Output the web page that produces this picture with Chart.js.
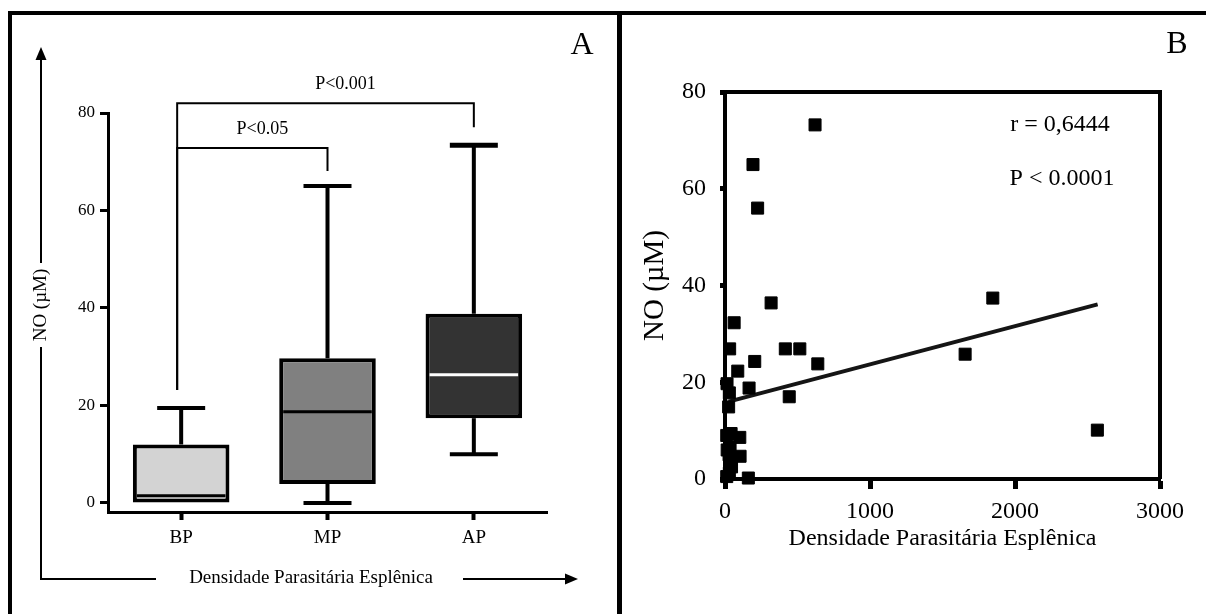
<!DOCTYPE html>
<html>
<head>
<meta charset="utf-8">
<script src="https://cdn.jsdelivr.net/npm/chart.js@4.4.0/dist/chart.umd.min.js"></script>
<style>
    html, body { margin: 0; padding: 0; background: #fff; }
    #page { position: relative; width: 1206px; height: 614px; overflow: hidden; }
    #chartA { position: absolute; left: 0; top: 0; }
    #chartB { position: absolute; left: 622px; top: 0; }
    .frame { position: absolute; background: #000; }
</style>
</head>
<body>
<div id="page">
    <canvas id="chartA" width="616" height="614"></canvas>
    <canvas id="chartB" width="584" height="614"></canvas>
    <div class="frame" style="left:8px;top:11px;width:1198px;height:4px"></div>
    <div class="frame" style="left:8px;top:11px;width:4px;height:603px"></div>
    <div class="frame" style="left:617px;top:11px;width:5px;height:603px"></div>
</div>
<script>
const serif = '"Liberation Serif", "Times New Roman", serif';

// panel A - box plot
const groups = ['BP', 'MP', 'AP'];
const whiskerLow = [0, 0, 10];
const boxLow = [0, 3.9, 17.4];
const medians = [1.5, 18.7, 26.3];
const boxHigh = [12, 29.7, 38.8];
const whiskerHigh = [19.5, 65, 73.4];
const boxTicks = [0, 20, 40, 60, 80];
const comparisonPairs = [[0, 2], [0, 1]];
const comparisonLabels = ['P<0.001', 'P<0.05'];

// panel B - scatter
const densidade = [621, 193, 225, 318, 1847, 63, 32, 416, 516, 205, 640, 1656, 88, 166, 443,
    14, 30, 25, 2568, 102, 42, 12, 35, 104, 28, 40, 161, 12, 30, 15, 45];
const noValues = [73.2, 65.0, 56.0, 36.4, 37.4, 32.3, 26.9, 26.9, 26.9, 24.3, 23.8, 25.8, 22.3, 18.8, 17.0,
    19.7, 17.8, 14.9, 10.1, 8.6, 9.4, 9.0, 6.6, 4.7, 5.0, 3.9, 0.2, 0.5, 1.2, 6.0, 2.5];
const trendX = [25, 2570];
const trendY = [16.0, 36.1];
const scatterTicksX = [0, 1000, 2000, 3000];
const scatterTicksY = [0, 20, 40, 60, 80];

function line(ctx, x1, y1, x2, y2, width, color) {
    ctx.beginPath();
    ctx.lineWidth = width;
    ctx.strokeStyle = color || '#000';
    ctx.moveTo(x1, y1);
    ctx.lineTo(x2, y2);
    ctx.stroke();
}

const boxExtras = {
    id: 'boxExtras',
    afterDatasetsDraw(chart) {
        const ctx = chart.ctx;
        const xs = chart.scales.x;
        const ys = chart.scales.y;
        const medianColors = ['#000', '#000', '#fff'];
        ctx.save();
        ctx.lineCap = 'butt';
        groups.forEach((g, i) => {
            const x = xs.getPixelForValue(i);
            const bar = chart.getDatasetMeta(0).data[i];
            const half = bar.width / 2;
            // whiskers
            line(ctx, x, ys.getPixelForValue(boxHigh[i]), x, ys.getPixelForValue(whiskerHigh[i]), 4);
            line(ctx, x - 24, ys.getPixelForValue(whiskerHigh[i]), x + 24, ys.getPixelForValue(whiskerHigh[i]), i === 2 ? 5 : 4);
            if (whiskerLow[i] < boxLow[i]) {
                line(ctx, x, ys.getPixelForValue(boxLow[i]), x, ys.getPixelForValue(whiskerLow[i]), 4);
                line(ctx, x - 24, ys.getPixelForValue(whiskerLow[i]), x + 24, ys.getPixelForValue(whiskerLow[i]), 4);
            }
            // median
            line(ctx, x - half + 4, ys.getPixelForValue(medians[i]), x + half - 4, ys.getPixelForValue(medians[i]), 3, medianColors[i]);
        });
        ctx.restore();
    },
    afterDraw(chart) {
        const ctx = chart.ctx;
        const xs = chart.scales.x;
        const ys = chart.scales.y;
        ctx.save();

        // significance brackets
        const levels = [82, 72.8];
        const drops = [[23.2, 77.1], [23.2, 68.1]];
        const textShift = [20, 10];
        ctx.fillStyle = '#000';
        ctx.font = '18px ' + serif;
        ctx.textAlign = 'center';
        ctx.textBaseline = 'middle';
        comparisonPairs.forEach((pair, k) => {
            const x1 = xs.getPixelForValue(pair[0]) - 4;
            const x2 = xs.getPixelForValue(pair[1]);
            const yTop = ys.getPixelForValue(levels[k]);
            ctx.beginPath();
            ctx.lineWidth = 2;
            ctx.strokeStyle = '#000';
            ctx.moveTo(x1, ys.getPixelForValue(drops[k][0]));
            ctx.lineTo(x1, yTop);
            ctx.lineTo(x2, yTop);
            ctx.lineTo(x2, ys.getPixelForValue(drops[k][1]));
            ctx.stroke();
            ctx.fillText(comparisonLabels[k], (x1 + x2) / 2 + textShift[k], yTop - 19);
        });

        // outer arrows with axis titles
        line(ctx, 41, 58, 41, 263, 2);
        line(ctx, 41, 347, 41, 579, 2);
        line(ctx, 40, 579, 156, 579, 2);
        line(ctx, 463, 579, 566, 579, 2);
        ctx.beginPath();
        ctx.moveTo(41, 47); ctx.lineTo(35.5, 60); ctx.lineTo(46.5, 60); ctx.closePath();
        ctx.fill();
        ctx.beginPath();
        ctx.moveTo(578, 579); ctx.lineTo(565, 573.5); ctx.lineTo(565, 584.5); ctx.closePath();
        ctx.fill();

        ctx.font = '19px ' + serif;
        ctx.fillText('Densidade Parasitária Esplênica', 311, 578);
        ctx.save();
        ctx.translate(41, 305);
        ctx.rotate(-Math.PI / 2);
        ctx.fillText('NO (µM)', 0, 0);
        ctx.restore();

        ctx.font = '32px ' + serif;
        ctx.fillText('A', 582, 46);
        ctx.restore();
    }
};

new Chart(document.getElementById('chartA'), {
    type: 'bar',
    data: {
        labels: groups,
        datasets: [{
            data: groups.map((g, i) => [boxLow[i], boxHigh[i]]),
            backgroundColor: ['#d3d3d3', '#808080', '#333333'],
            borderColor: '#000',
            borderWidth: 4,
            borderSkipped: false,
            categoryPercentage: 1,
            barPercentage: 0.66
        }]
    },
    options: {
        responsive: false,
        animation: false,
        layout: { padding: { left: 60, right: 69, top: 113, bottom: 60 } },
        plugins: { legend: { display: false }, tooltip: { enabled: false } },
        scales: {
            x: {
                grid: { offset: false, drawOnChartArea: false, tickLength: 8, tickWidth: 4, tickColor: '#000' },
                border: { color: '#000', width: 3 },
                ticks: { color: '#000', font: { family: serif, size: 19 }, padding: 7 },
                afterFit: (s) => { s.height = 42; }
            },
            y: {
                min: -1.85,
                max: 80,
                afterBuildTicks: (s) => { s.ticks = boxTicks.map(v => ({ value: v })); },
                grid: { drawOnChartArea: false, tickLength: 8, tickWidth: 3, tickColor: '#000' },
                border: { color: '#000', width: 3 },
                ticks: { color: '#000', font: { family: serif, size: 17 }, padding: 5 },
                afterFit: (s) => { s.width = 48; }
            }
        }
    },
    plugins: [boxExtras]
});

const scatterExtras = {
    id: 'scatterExtras',
    afterDraw(chart) {
        const ctx = chart.ctx;
        const area = chart.chartArea;
        ctx.save();
        ctx.beginPath();
        ctx.lineWidth = 4;
        ctx.strokeStyle = '#000';
        ctx.moveTo(area.left, area.top);
        ctx.lineTo(area.right, area.top);
        ctx.lineTo(area.right, area.bottom);
        ctx.stroke();

        ctx.fillStyle = '#000';
        ctx.textAlign = 'center';
        ctx.textBaseline = 'middle';
        ctx.font = '24px ' + serif;
        ctx.fillText('r = 0,6444', 438, 125);
        ctx.fillText('P < 0.0001', 440, 179);
        ctx.font = '32px ' + serif;
        ctx.fillText('B', 555, 45);
        ctx.restore();
    }
};

new Chart(document.getElementById('chartB'), {
    type: 'scatter',
    data: {
        datasets: [
            {
                type: 'line',
                data: trendX.map((x, i) => ({ x: x, y: trendY[i] })),
                borderColor: '#151515',
                borderWidth: 4,
                pointRadius: 0,
                order: 2
            },
            {
                data: densidade.map((x, i) => ({ x: x, y: noValues[i] })),
                pointStyle: 'rect',
                pointRadius: 8.5,
                backgroundColor: '#000',
                borderColor: '#000',
                borderWidth: 1,
                clip: false,
                order: 1
            }
        ]
    },
    options: {
        responsive: false,
        animation: false,
        layout: { padding: { left: 0, right: 46, top: 92, bottom: 0 } },
        plugins: { legend: { display: false }, tooltip: { enabled: false } },
        scales: {
            x: {
                type: 'linear',
                min: 0,
                max: 3000,
                afterBuildTicks: (s) => { s.ticks = scatterTicksX.map(v => ({ value: v })); },
                grid: { drawOnChartArea: false, tickLength: 10, tickWidth: 5, tickColor: '#000' },
                border: { color: '#000', width: 4 },
                ticks: { color: '#000', font: { family: serif, size: 24 }, padding: 8, callback: (v) => String(v) },
                title: {
                    display: true,
                    text: 'Densidade Parasitária Esplênica',
                    color: '#000',
                    font: { family: serif, size: 24 },
                    padding: { top: 0, bottom: 61 }
                },
                afterFit: (s) => { s.height = 135; }
            },
            y: {
                min: 0,
                max: 80,
                afterBuildTicks: (s) => { s.ticks = scatterTicksY.map(v => ({ value: v })); },
                grid: { drawOnChartArea: false, tickLength: 5, tickWidth: 5, tickColor: '#000' },
                border: { color: '#000', width: 4 },
                ticks: { color: '#000', font: { family: serif, size: 24 }, padding: 14, callback: (v) => String(v) },
                title: {
                    display: true,
                    text: 'NO (µM)',
                    color: '#000',
                    font: { family: serif, size: 29 },
                    padding: { top: 16, bottom: 0 }
                },
                afterFit: (s) => { s.width = 103; }
            }
        }
    },
    plugins: [scatterExtras]
});
</script>
</body>
</html>
